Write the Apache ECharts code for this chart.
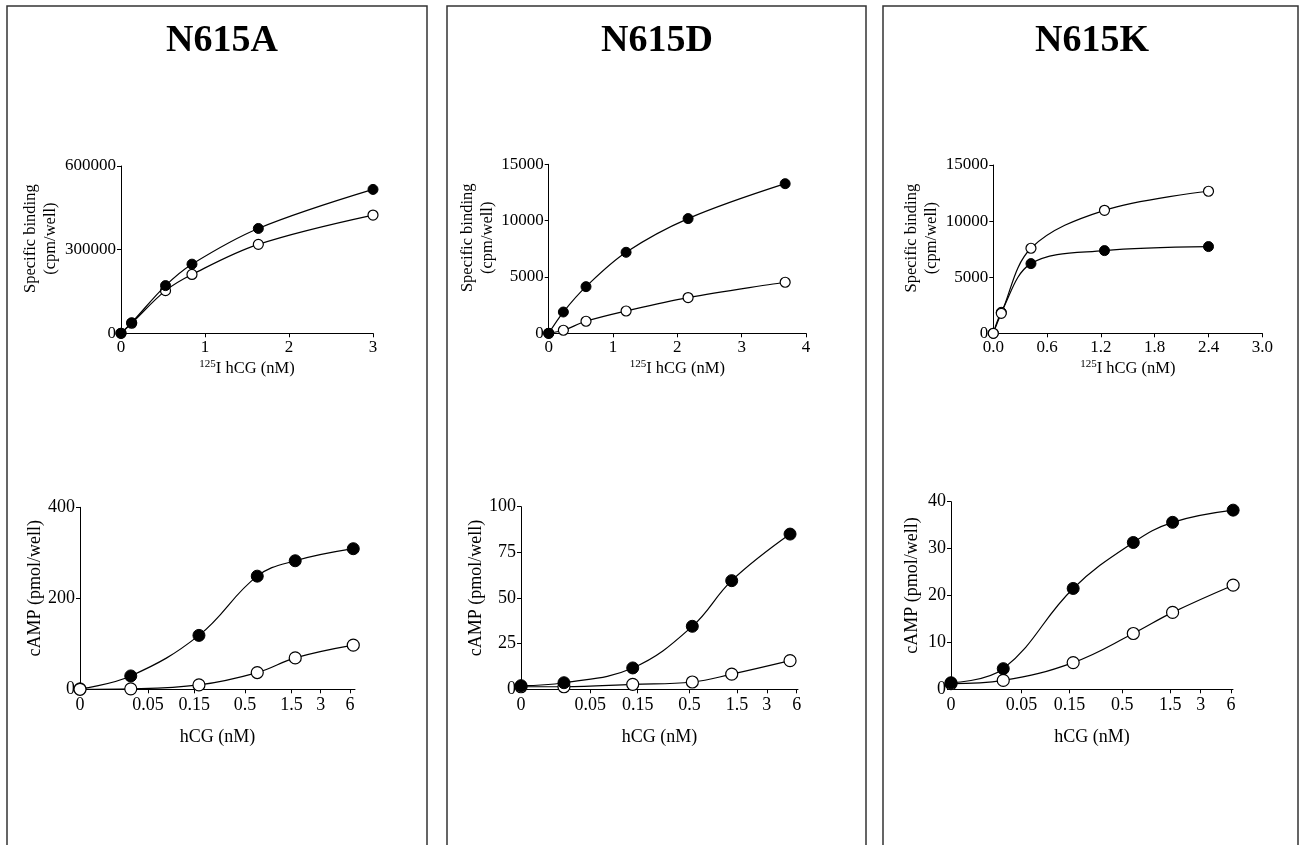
<!DOCTYPE html>
<html>
<head>
<meta charset="utf-8">
<title>N615 mutants: hCG binding and cAMP response</title>
<script src="https://cdn.jsdelivr.net/npm/echarts@6/dist/echarts.min.js"></script>
<style>
  html, body { margin: 0; padding: 0; background: #fff; }
  #chart { width: 1302px; height: 845px; }
</style>
</head>
<body>
<div id="chart"></div>
<script>
// ---- Panel titles ----
const panelTitles = ['N615A', 'N615D', 'N615K'];

// ---- 125I-hCG saturation binding (x: nM, y: cpm/well) ----
const bindA_x      = [0, 0.127, 0.53, 0.845, 1.635, 3.0];
const bindA_solid  = [0, 38000, 171000, 248000, 376000, 516000];
const bindA_open   = [0, 36000, 153000, 211000, 319000, 424000];

const bindD_x      = [0, 0.228, 0.58, 1.203, 2.167, 3.676];
const bindD_solid  = [0, 1890, 4140, 7190, 10180, 13280];
const bindD_open   = [0, 270, 1070, 1980, 3170, 4530];

const bindK_x      = [0, 0.089, 0.42, 1.24, 2.4];
const bindK_solid  = [0, 1870, 6210, 7370, 7730];
const bindK_open   = [0, 1780, 7580, 10960, 12660];

// ---- hCG-stimulated cAMP (x: nM hCG, y: pmol/well) ----
const campA_dose   = [0, 0.0333, 0.1675, 0.667, 1.64, 6.49];
const campA_solid  = [1, 29.4, 118.5, 248.7, 282.5, 309];
const campA_open   = [0, 1, 9.6, 36.8, 69, 97];

const campD_dose   = [0, 0.0271, 0.1337, 0.533, 1.33, 5.15];
const campD_solid  = [2.0, 3.6, 11.7, 34.5, 59.5, 85];
const campD_open   = [1.4, 1.4, 2.7, 4.0, 8.3, 15.7];

const campK_dose   = [0, 0.033, 0.163, 0.644, 1.58, 6.3];
const campK_solid  = [1.4, 4.4, 21.5, 31.3, 35.6, 38.2];
const campK_open   = [1.2, 1.9, 5.7, 11.9, 16.4, 22.2];

// ---- Axis ticks ----
const bindA_yTicks = { max: 600000, interval: 300000 };
const bindD_yTicks = { max: 15000, interval: 5000 };
const bindK_yTicks = { max: 15000, interval: 5000 };
const bindA_xTicks = { max: 3, interval: 1, digits: 0 };
const bindD_xTicks = { max: 4, interval: 1, digits: 0 };
const bindK_xTicks = { max: 3, interval: 0.6, digits: 1 };

const campA_yTicks = { max: 400, interval: 200 };
const campD_yTicks = { max: 100, interval: 25 };
const campK_yTicks = { max: 40, interval: 10 };

const doseTickValues = [0, 0.05, 0.15, 0.5, 1.5, 3, 6];
const doseTickLabels = ['0', '0.05', '0.15', '0.5', '1.5', '3', '6'];

// the zero-dose column sits two decades below 1 nM on the log axis
const ZERO_LOG = -2;
function doseToAxis(d) { return d === 0 ? ZERO_LOG : Math.log10(d); }
const doseTickPos = doseTickValues.map(doseToAxis);

const FONT = "'Liberation Serif','Times New Roman',serif";

// ---- layout of each plot area (px) ----
const layout = {
  bind: [
    { left: 121,   top: 166,   width: 252, height: 167.3, nameGap: 55 },
    { left: 548.7, top: 164.3, width: 257.3, height: 169, nameGap: 48 },
    { left: 993.3, top: 165,   width: 269, height: 168.3, nameGap: 46 }
  ],
  camp: [
    { left: 80,  top: 507.3, width: 275, height: 182,   xmax: 0.83,  nameGap: 35 },
    { left: 521, top: 506.7, width: 277, height: 182.6, xmax: 0.792, nameGap: 31 },
    { left: 951, top: 501.7, width: 282, height: 187.6, xmax: 0.798, nameGap: 30 }
  ]
};

const bindSets = [
  { x: bindA_x, solid: bindA_solid, open: bindA_open, yT: bindA_yTicks, xT: bindA_xTicks, openOnTop: false },
  { x: bindD_x, solid: bindD_solid, open: bindD_open, yT: bindD_yTicks, xT: bindD_xTicks, openOnTop: false },
  { x: bindK_x, solid: bindK_solid, open: bindK_open, yT: bindK_yTicks, xT: bindK_xTicks, openOnTop: true }
];
const campSets = [
  { x: campA_dose, solid: campA_solid, open: campA_open, yT: campA_yTicks, openOnTop: true },
  { x: campD_dose, solid: campD_solid, open: campD_open, yT: campD_yTicks, openOnTop: false },
  { x: campK_dose, solid: campK_solid, open: campK_open, yT: campK_yTicks, openOnTop: false }
];

const axisLine = { show: true, onZero: false, lineStyle: { color: '#000', width: 1 } };
const axisTick = { show: true, length: 4, lineStyle: { color: '#000', width: 1 } };
const plainNumber = v => String(v);

const grids = [], xAxes = [], yAxes = [], series = [];

function pairSeries(idx, xs, solid, open, size, openOnTop, smooth) {
  const base = {
    type: 'line', xAxisIndex: idx, yAxisIndex: idx,
    smooth, symbol: 'circle', symbolSize: size, clip: false,
    lineStyle: { color: '#000', width: 1.2 }, silent: true
  };
  series.push(Object.assign({}, base, {
    data: xs.map((x, i) => [x, solid[i]]),
    itemStyle: { color: '#000', borderColor: '#000', borderWidth: 1 },
    z: openOnTop ? 2 : 4
  }));
  series.push(Object.assign({}, base, {
    data: xs.map((x, i) => [x, open[i]]),
    itemStyle: { color: '#fff', borderColor: '#000', borderWidth: 1.2 },
    z: 3
  }));
}

// binding plots
bindSets.forEach((s, i) => {
  const L = layout.bind[i];
  const idx = grids.length;
  grids.push({ left: L.left, top: L.top, width: L.width, height: L.height });
  xAxes.push({
    type: 'value', gridIndex: idx, min: 0, max: s.xT.max, interval: s.xT.interval,
    axisLine, axisTick, splitLine: { show: false },
    axisLabel: {
      color: '#000', fontSize: 17, fontFamily: FONT, margin: 6,
      formatter: v => v.toFixed(s.xT.digits)
    },
    name: '{s|125}{n|I hCG (nM)}', nameLocation: 'middle', nameGap: 25,
    nameTextStyle: {
      rich: {
        s: { fontSize: 11, fontFamily: FONT, color: '#000', verticalAlign: 'top', lineHeight: 11 },
        n: { fontSize: 16.5, fontFamily: FONT, color: '#000', lineHeight: 20 }
      }
    }
  });
  yAxes.push({
    type: 'value', gridIndex: idx, min: 0, max: s.yT.max, interval: s.yT.interval,
    axisLine, axisTick, splitLine: { show: false },
    axisLabel: { color: '#000', fontSize: 17, fontFamily: FONT, margin: 5, formatter: plainNumber },
    name: 'Specific binding\n(cpm/well)', nameLocation: 'middle', nameGap: L.nameGap,
    nameTextStyle: {
      color: '#000', fontSize: 16.5, fontFamily: FONT, lineHeight: 20,
      padding: [0, 0, 0, 22]
    }
  });
  pairSeries(idx, s.x, s.solid, s.open, 10, s.openOnTop, 0.35);
});

// cAMP dose-response plots (log dose axis)
campSets.forEach((s, i) => {
  const L = layout.camp[i];
  const idx = grids.length;
  grids.push({ left: L.left, top: L.top, width: L.width, height: L.height });
  xAxes.push({
    type: 'value', gridIndex: idx, min: ZERO_LOG, max: L.xmax,
    axisLine, splitLine: { show: false },
    axisTick: Object.assign({}, axisTick, { customValues: doseTickPos.slice(1) }),
    axisLabel: {
      color: '#000', fontSize: 18, fontFamily: FONT, margin: 7,
      customValues: doseTickPos,
      formatter: v => {
        let best = 0;
        doseTickPos.forEach((p, k) => { if (Math.abs(p - v) < Math.abs(doseTickPos[best] - v)) best = k; });
        return doseTickLabels[best];
      }
    },
    name: 'hCG (nM)', nameLocation: 'middle', nameGap: 39,
    nameTextStyle: { color: '#000', fontSize: 18, fontFamily: FONT }
  });
  yAxes.push({
    type: 'value', gridIndex: idx, min: 0, max: s.yT.max, interval: s.yT.interval,
    axisLine, axisTick, splitLine: { show: false },
    axisLabel: { color: '#000', fontSize: 18, fontFamily: FONT, margin: 5, formatter: plainNumber },
    name: 'cAMP (pmol/well)', nameLocation: 'middle', nameGap: L.nameGap,
    nameTextStyle: {
      color: '#000', fontSize: 18, fontFamily: FONT, padding: [0, 0, 0, 20]
    }
  });
  pairSeries(idx, s.x.map(doseToAxis), s.solid, s.open, 12, s.openOnTop, 0.4);
});

// panel frames and titles
const frames = [
  { x: 7, w: 420, cx: 222 },
  { x: 447, w: 419, cx: 657 },
  { x: 883, w: 415, cx: 1092 }
];
const graphic = [];
frames.forEach((f, i) => {
  graphic.push({
    type: 'rect', silent: true,
    shape: { x: f.x, y: 6, width: f.w, height: 900 },
    style: { fill: 'none', stroke: '#333', lineWidth: 1.5 }
  });
  graphic.push({
    type: 'text', silent: true, x: f.cx, y: 41,
    style: {
      text: panelTitles[i], fill: '#000', font: 'bold 38px ' + FONT,
      align: 'center', verticalAlign: 'middle'
    }
  });
});

const chart = echarts.init(document.getElementById('chart'), null, { renderer: 'canvas' });
chart.setOption({
  animation: false,
  backgroundColor: '#fff',
  grid: grids,
  xAxis: xAxes,
  yAxis: yAxes,
  series,
  graphic
});
</script>
</body>
</html>
